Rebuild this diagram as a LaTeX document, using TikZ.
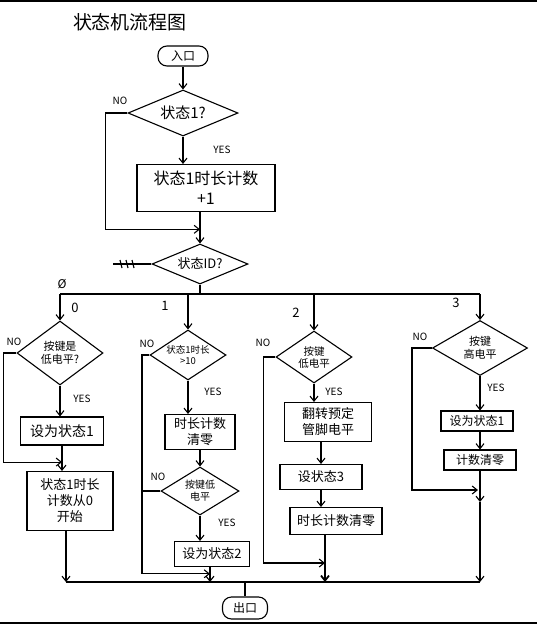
\documentclass[tikz,border=0pt]{standalone}
\usepackage{fontspec}
\setmainfont{Noto Sans CJK SC}
\usetikzlibrary{shapes.geometric,arrows.meta,calc}
\begin{document}
\begin{tikzpicture}[x=1pt,y=-1pt,line width=1.1pt,
  >={Straight Barb[length=5pt,width=8pt]},
  box/.style={draw,rectangle,inner sep=0pt,align=center},
  dec/.style={draw,diamond,inner sep=0pt,align=center},
  term/.style={draw,rectangle,rounded corners=9pt,inner sep=0pt,font=\fontsize{12}{14}\selectfont},
  lab/.style={inner sep=1pt,font=\fontsize{10}{12}\selectfont},
  fa/.style={font=\fontsize{9.5}{11}\selectfont},
  fd/.style={font=\fontsize{10.5}{12}\selectfont},
  fb/.style={font=\fontsize{13}{16}\selectfont},
  fc/.style={font=\fontsize{14}{17}\selectfont}]
\useasboundingbox (0,0) rectangle (537,625);
\draw[line width=2pt] (0,1) -- (537,1);
\draw[line width=2pt] (0,623) -- (537,623);
% title
\node[font=\fontsize{19}{22}\selectfont] (title) at (130,22) {状态机流程图};
% top part
\node[term,minimum width=50pt,minimum height=20pt] (start) at (183,56) {入口};
\node[dec,shape aspect=2.4,minimum width=110pt,minimum height=46pt,font=\fontsize{15}{17}\selectfont] (d1) at (183,113) {状态1?};
\node[box,minimum width=138pt,minimum height=47pt,font=\fontsize{16}{20}\selectfont] (box1) at (206,188) {状态1时长计数\\+1};
\node[dec,shape aspect=2.4,minimum width=96pt,minimum height=40pt,font=\fontsize{13}{15}\selectfont] (d2) at (200,264) {状态ID?};
\draw[->] (start) -- (d1.north);
\draw[->] (d1.south) -- (d1.south |- box1.north);
\draw[->] (d2.north |- box1.south) -- (d2.north);
\coordinate (j1) at ($(d2.north |- box1.south)!0.55!(d2.north)$);
\draw[->] (d1.west) -- ++(-22,0) |- (j1);
\node[lab] (no1) at (120,101) {NO};
\node[lab] (yes1) at (222,150) {YES};
\coordinate (hz) at (113,264);
\draw (hz) -- (d2.west);
\foreach \dx in {7,13,19} \draw ([xshift=\dx pt]hz) ++(0,-4) -- ++(2,8);
% bus
\coordinate (bL) at (60,294);
\coordinate (bR) at (480,294);
\draw (d2.south) -- (d2.south |- bL);
\draw (bL) -- (bR);
% branch 0
\node[dec,shape aspect=1.35,minimum width=86pt,minimum height=64pt,font=\fontsize{11}{13}\selectfont] (a0) at (60,353) {按键是\\低电平?};
\node[box,minimum width=83pt,minimum height=28pt,fc] (b01) at (62,431) {设为状态1};
\node[box,minimum width=86pt,minimum height=59pt,fb] (b02) at (70,501) {状态1时长\\计数从0\\开始};
\draw[->] (bL) -- (a0.north);
\draw[->] (a0.south) -- (a0.south |- b01.north);
\draw[->] (b01.south) -- (b01.south |- b02.north);
\coordinate (j0) at ($(b01.south)!0.65!(b01.south |- b02.north)$);
\draw[->] (a0.west) -- ++(-13,0) |- (j0);
\coordinate (c0) at (66,582);
\draw[->] (c0 |- b02.south) -- (c0);
\node[lab] (no0) at (14,342) {NO};
\node[lab] (yes0) at (82,399) {YES};
\node[lab,font=\fontsize{13}{15}\selectfont] (l0) at (75,308) {0};
\node[lab,font=\fontsize{12}{14}\selectfont] (l0x) at (62,284) {Ø};
% branch 1
\node[dec,shape aspect=1.5,minimum width=76pt,minimum height=50pt,fa] (a1) at (188,355) {状态1时长\\>10};
\node[box,minimum width=70pt,minimum height=35pt,fb] (b11) at (200,432) {时长计数\\清零};
\node[dec,shape aspect=1.6,minimum width=78pt,minimum height=48pt,font=\fontsize{10}{12}\selectfont] (a12) at (200,491) {按键低\\电平};
\node[box,minimum width=75pt,minimum height=25pt,fb] (b12) at (212,554) {设为状态2};
\draw[->] (a1.north |- bL) -- (a1.north);
\draw[->] (a1.south) -- (a1.south |- b11.north);
\draw[->] (a12.north |- b11.south) -- (a12.north);
\draw[->] (a12.south) -- (a12.south |- b12.north);
\coordinate (c1) at (210,582);
\draw[->] (c1 |- b12.south) -- (c1);
\coordinate (k1) at (142,355);
\coordinate (j1b) at ($(c1 |- b12.south)!0.45!(c1)$);
\draw[->] (a1.west) -- (k1) |- (j1b);
\draw (a12.west) -- (a12.west -| k1);
\node[lab] (no11) at (147,344) {NO};
\node[lab] (yes11) at (213,392) {YES};
\node[lab] (no12) at (158,477) {NO};
\node[lab] (yes12) at (227,523) {YES};
\node[lab,font=\fontsize{13}{15}\selectfont] (l1) at (165,306) {1};
% branch 2
\node[dec,shape aspect=1.46,minimum width=76pt,minimum height=52pt,fd] (a2) at (314,357) {按键\\低电平};
\node[box,minimum width=87pt,minimum height=39pt,fb] (b21) at (328,422) {翻转预定\\管脚电平};
\node[box,minimum width=82pt,minimum height=25pt,fb] (b22) at (321,477) {设状态3};
\node[box,minimum width=92pt,minimum height=27pt,fb] (b23) at (336,521) {时长计数清零};
\draw[->] (a2.north |- bL) -- (a2.north);
\draw[->] (a2.south) -- (a2.south |- b21.north);
\draw[->] (b22.north |- b21.south) -- (b22.north);
\draw[->] (b22.south) -- (b22.south |- b23.north);
\coordinate (c2) at (325,582);
\draw[->,line width=1.8pt] (c2 |- b23.south) -- (c2);
\coordinate (j2) at (325,563);
\draw[->] (a2.west) -- ++(-12,0) |- (j2);
\node[lab] (no2) at (263,343) {NO};
\node[lab] (yes2) at (334,392) {YES};
\node[lab,font=\fontsize{13}{15}\selectfont] (l2) at (296,313) {2};
% branch 3
\node[dec,shape aspect=1.7,minimum width=95pt,minimum height=55pt,font=\fontsize{11}{13}\selectfont] (a3) at (480,348) {按键\\高电平};
\node[box,minimum width=72pt,minimum height=20pt,font=\fontsize{12}{14}\selectfont] (b31) at (477,421) {设为状态1};
\node[box,minimum width=72pt,minimum height=20pt,font=\fontsize{12}{14}\selectfont] (b32) at (480,460) {计数清零};
\draw[->] (bR) -- (a3.north);
\draw[->] (a3.south) -- (a3.south |- b31.north);
\draw[->] (b31.south -| a3.south) -- (a3.south |- b32.north);
\coordinate (c3) at (480,582);
\coordinate (m3) at (480,502);
\draw[->] (c3 |- b32.south) -- (m3);
\draw[->] (m3) -- (c3);
\coordinate (j3) at (478,490);
\draw[->] (a3.west) -- ++(-20,0) |- (j3);
\node[lab] (no3) at (420,337) {NO};
\node[lab] (yes3) at (496,388) {YES};
\node[lab,font=\fontsize{13}{15}\selectfont] (l3) at (456,303) {3};
% bottom bus and exit
\draw (c0) -- (c3);
\node[term,minimum width=45pt,minimum height=22pt] (out) at (245,608) {出口};
\draw (out.north |- c0) -- (out.north);
\end{tikzpicture}
\end{document}
